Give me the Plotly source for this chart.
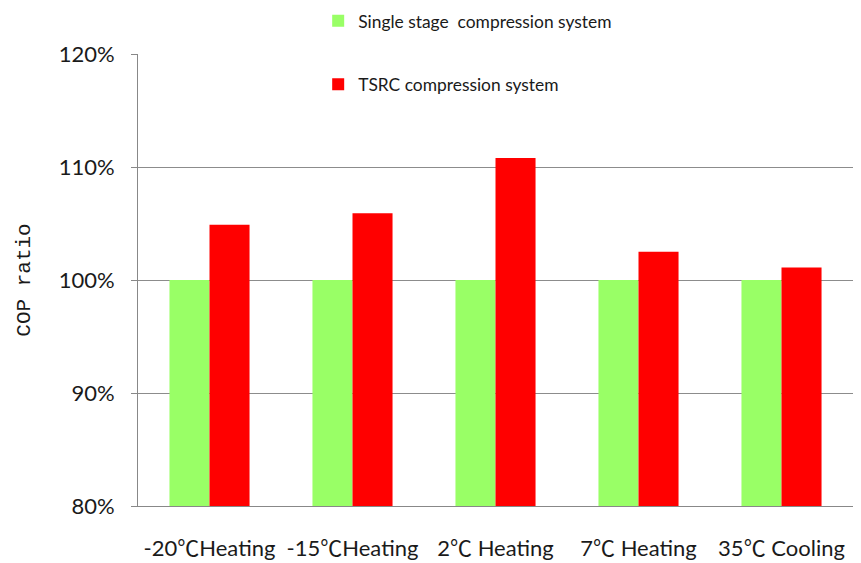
import plotly.graph_objects as go

categories = ["-20℃Heating", "-15℃Heating", "2℃ Heating", "7℃ Heating", "35℃ Cooling"]
single_stage = [1.00, 1.00, 1.00, 1.00, 1.00]
tsrc = [1.049, 1.059, 1.108, 1.025, 1.011]
series_names = ["Single stage  compression system", "TSRC compression system"]
y_ticks = [0.8, 0.9, 1.0, 1.1, 1.2]
y_tick_labels = ["80%", "90%", "100%", "110%", "120%"]

font_main = "Lato, Liberation Sans, Noto Sans CJK SC, sans-serif"
cjk_span = "<span style=\"font-family:'Noto Sans CJK SC'\">℃</span>"
x_tick_text = [c.replace("℃", cjk_span) for c in categories]

fig = go.Figure()
fig.add_trace(go.Bar(x=categories, y=single_stage, name=series_names[0],
                     marker=dict(color="#99FF66", line=dict(width=0)),
                     legendgroup="a"))
fig.add_trace(go.Bar(x=categories, y=tsrc, name=series_names[1],
                     marker=dict(color="#FF0000", line=dict(width=0)),
                     legendgroup="b"))

# page body has an 8px margin, so the figure is sized/offset to compensate
fig.update_layout(
    width=853, height=555,
    paper_bgcolor="white", plot_bgcolor="white",
    margin=dict(l=130, r=8, t=46, b=57, autoexpand=False),
    barmode="group", bargap=0.44, bargroupgap=0,
    font=dict(family=font_main, size=17, color="#1a1a1a"),
    showlegend=True,
    legend=dict(x=0.252, y=1.113, xanchor="left", yanchor="top",
                bgcolor="rgba(0,0,0,0)", font=dict(size=17.4, color="#1a1a1a"),
                tracegroupgap=38, traceorder="grouped"),
    xaxis=dict(showline=True, linecolor="#888888", linewidth=1,
               ticks="", showgrid=False, tickfont=dict(size=22),
               tickvals=categories, ticktext=x_tick_text,
               ticklabelstandoff=23, fixedrange=True),
    yaxis=dict(range=[0.8, 1.2], tickvals=y_ticks, ticktext=y_tick_labels,
               showline=True, linecolor="#888888", linewidth=1,
               ticks="outside", ticklen=6, tickcolor="#888888",
               showgrid=True, gridcolor="#8c8c8c", gridwidth=1,
               zeroline=False, tickfont=dict(size=22), ticklabelstandoff=12,
               title=dict(text="COP ratio",
                          font=dict(family="Liberation Mono, DejaVu Sans Mono, monospace", size=21),
                          standoff=22)),
)

fig.write_html("out.html")
